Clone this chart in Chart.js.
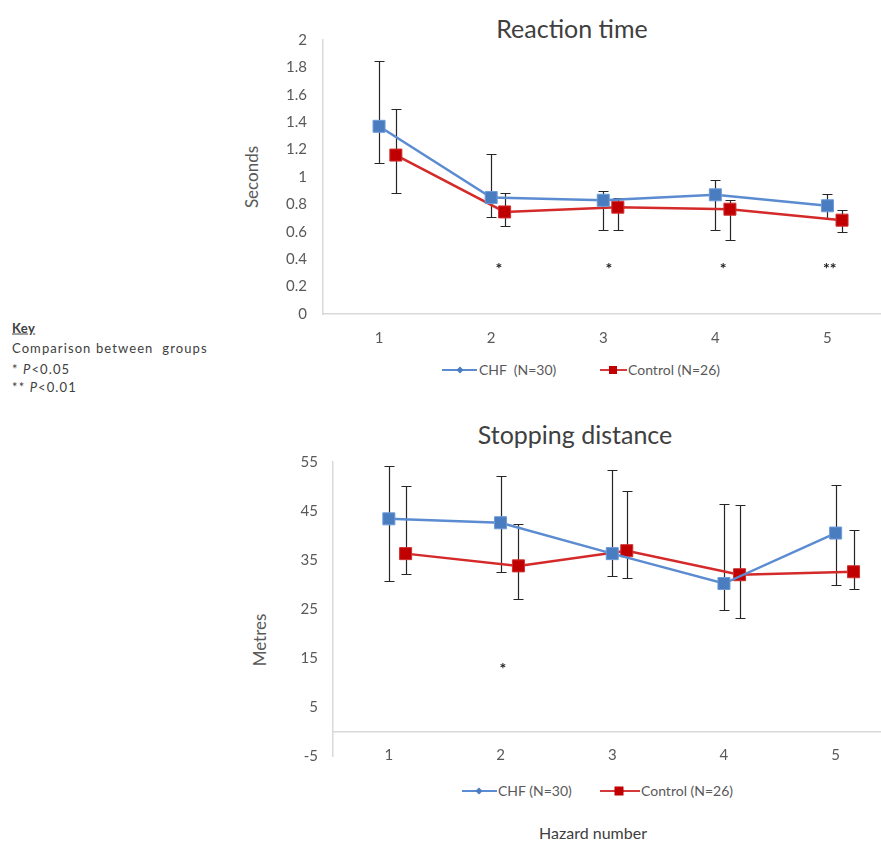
<!DOCTYPE html>
<html>
<head>
<meta charset="utf-8">
<script src="https://cdn.jsdelivr.net/npm/chart.js@4.4.1/dist/chart.umd.min.js"></script>
<style>
  body { margin: 0; width: 881px; height: 843px; overflow: hidden; background: #fff; position: relative; font-family: Lato, "Open Sans", sans-serif; color: #595959; }
  .abs { position: absolute; }
  .ctr { position: absolute; transform: translate(-50%, -50%); line-height: 1; white-space: nowrap; }
  .title { font-size: 25px; color: #404040; }
  .ytitle { position: absolute; transform: translate(-50%, -50%) rotate(-90deg); font-size: 17px; color: #595959; line-height: 1; white-space: nowrap; }
  .key { position: absolute; left: 12px; font-size: 13px; color: #404040; line-height: 1; letter-spacing: 1.1px; white-space: nowrap; transform: translateY(-50%); }
  .leg-line { position: absolute; height: 2px; }
  .leg-mark { position: absolute; transform: translate(-50%, -50%); }
  .leg-text { position: absolute; font-size: 14px; color: #595959; line-height: 1; transform: translateY(-50%); white-space: nowrap; }
</style>
</head>
<body>

<div class="ctr title" style="left:572px;top:28px">Reaction time</div>
<div class="ytitle" style="left:251px;top:177px">Seconds</div>
<div class="abs" style="left:240px;top:0;width:653px;height:350px"><canvas id="rtChart"></canvas></div>

<div class="key" style="top:328px;font-weight:bold;text-decoration:underline;letter-spacing:0.4px">Key</div>
<div class="key" style="top:348px">Comparison between&nbsp; groups</div>
<div class="key" style="top:369px">* <i>P</i>&lt;0.05</div>
<div class="key" style="top:387px">** <i>P</i>&lt;0.01</div>

<!-- top legend -->
<div class="leg-line" style="left:442px;top:369px;width:35px;background:#5b8bd0"></div>
<div class="leg-mark" style="left:460px;top:370px;width:5px;height:5px;background:#4a7cc0;transform:translate(-50%,-50%) rotate(45deg)"></div>
<div class="leg-text" style="left:479px;top:370px">CHF&nbsp; (N=30)</div>
<div class="leg-line" style="left:600px;top:369px;width:27px;background:#d43a3a"></div>
<div class="leg-mark" style="left:613px;top:370px;width:8px;height:8px;background:#c00000"></div>
<div class="leg-text" style="left:628px;top:370px">Control (N=26)</div>

<div class="ctr title" style="left:575px;top:434px">Stopping distance</div>
<div class="ytitle" style="left:259px;top:640px">Metres</div>
<div class="abs" style="left:240px;top:420px;width:661px;height:360px"><canvas id="sdChart"></canvas></div>

<!-- bottom legend -->
<div class="leg-line" style="left:462px;top:790px;width:35px;background:#5b8bd0"></div>
<div class="leg-mark" style="left:479px;top:791px;width:5px;height:5px;background:#4a7cc0;transform:translate(-50%,-50%) rotate(45deg)"></div>
<div class="leg-text" style="left:498px;top:791px">CHF (N=30)</div>
<div class="leg-line" style="left:600px;top:790px;width:40px;background:#d43a3a"></div>
<div class="leg-mark" style="left:619px;top:791px;width:9px;height:9px;background:#c00000"></div>
<div class="leg-text" style="left:641px;top:791px">Control (N=26)</div>

<div class="ctr" style="left:593px;top:833px;font-size:16px;color:#404040">Hazard number</div>

<script>
// x categories
const hazards = [1, 2, 3, 4, 5];

// reaction time (seconds)
const rtYTicks = [0, 0.2, 0.4, 0.6, 0.8, 1, 1.2, 1.4, 1.6, 1.8, 2];
const rtChfX = [1, 2, 3, 4, 5];
const rtChf = [1.37, 0.85, 0.83, 0.87, 0.79];
const rtChfHi = [1.85, 1.17, 0.9, 0.98, 0.875];
const rtChfLo = [1.1, 0.71, 0.61, 0.61, 0.7];
const rtCtrlX = [1.15, 2.12, 3.13, 4.13, 5.13];
const rtCtrl = [1.16, 0.745, 0.78, 0.765, 0.685];
const rtCtrlHi = [1.5, 0.88, 0.85, 0.83, 0.76];
const rtCtrlLo = [0.885, 0.64, 0.61, 0.54, 0.6];
const rtSigX = [2.07, 3.05, 4.07, 5.02];
const rtSigY = [0.35, 0.35, 0.35, 0.35];
const rtSig = ["*", "*", "*", "**"];

// stopping distance (metres)
const sdYTicks = [-5, 5, 15, 25, 35, 45, 55];
const sdChfX = [1, 2, 3, 4, 5];
const sdChf = [43.4, 42.6, 36.3, 30.2, 40.5];
const sdChfHi = [54.2, 52.2, 53.4, 46.4, 50.3];
const sdChfLo = [30.8, 32.6, 31.8, 24.7, 29.8];
const sdCtrlX = [1.15, 2.16, 3.13, 4.14, 5.16];
const sdCtrl = [36.3, 33.8, 36.9, 32.0, 32.6];
const sdCtrlHi = [50.1, 42.3, 49.0, 46.2, 41.1];
const sdCtrlLo = [32.2, 27.1, 31.4, 23.1, 29.1];
const sdSigX = [2.02];
const sdSigY = [13.3];
const sdSig = ["*"];

const BLUE_LINE = "#5b8bd0";
const BLUE_MARK = "#4a7cc0";
const RED_LINE = "#d42a2a";
const RED_MARK = "#c00000";
const AXIS = "#d9d9d9";

function pts(xs, ys) {
  return xs.map((x, i) => ({ x: x, y: ys[i] }));
}

// draws the vertical error bars behind the series
const errorBars = {
  id: "errorBars",
  beforeDatasetsDraw(chart) {
    const ctx = chart.ctx;
    const y = chart.scales.y;
    chart.data.datasets.forEach((ds, di) => {
      if (!ds.hi) return;
      const meta = chart.getDatasetMeta(di);
      ctx.save();
      ctx.strokeStyle = "#262626";
      ctx.lineWidth = 1.2;
      meta.data.forEach((pt, i) => {
        const top = Math.round(y.getPixelForValue(ds.hi[i])) + 0.5;
        const bot = Math.round(y.getPixelForValue(ds.lo[i])) + 0.5;
        const px = Math.round(pt.x) + 0.5;
        ctx.beginPath();
        ctx.moveTo(px, top);
        ctx.lineTo(px, bot);
        ctx.moveTo(px - 5, top);
        ctx.lineTo(px + 5, top);
        ctx.moveTo(px - 5, bot);
        ctx.lineTo(px + 5, bot);
        ctx.stroke();
      });
      ctx.restore();
    });
  },
};

// significance asterisks
const sigMarks = {
  id: "sigMarks",
  afterDatasetsDraw(chart, args, opts) {
    if (!opts.labels) return;
    const { ctx, scales } = chart;
    ctx.save();
    ctx.fillStyle = "#1a1a1a";
    ctx.font = "bold 16px Lato";
    ctx.textAlign = "center";
    ctx.textBaseline = "middle";
    opts.labels.forEach((t, i) => {
      ctx.fillText(t, scales.x.getPixelForValue(opts.x[i]), scales.y.getPixelForValue(opts.y[i]) + 3);
    });
    ctx.restore();
  },
};

function makeChart(id, o) {
  return new Chart(document.getElementById(id), {
    type: "line",
    data: {
      datasets: [
        {
          label: "CHF (N=30)",
          data: pts(o.chfX, o.chf),
          hi: o.chfHi,
          lo: o.chfLo,
          borderColor: BLUE_LINE,
          borderWidth: 2.5,
          pointStyle: "rect",
          pointRadius: 8.5,
          pointBackgroundColor: BLUE_MARK,
          pointBorderColor: "#6d9bd8",
          pointBorderWidth: 1,
        },
        {
          label: "Control (N=26)",
          data: pts(o.ctrlX, o.ctrl),
          hi: o.ctrlHi,
          lo: o.ctrlLo,
          borderColor: RED_LINE,
          borderWidth: 2.5,
          pointStyle: "rect",
          pointRadius: 8.5,
          pointBackgroundColor: RED_MARK,
          pointBorderColor: "#d03030",
          pointBorderWidth: 1,
        },
      ],
    },
    options: {
      responsive: true,
      maintainAspectRatio: false,
      animation: false,
      events: [],
      layout: { padding: { top: o.padTop, left: 0, right: 0, bottom: o.padBottom } },
      plugins: {
        legend: { display: false },
        tooltip: { enabled: false },
        sigMarks: { labels: o.sig, x: o.sigX, y: o.sigY },
      },
      scales: {
        x: {
          type: "linear",
          position: o.xPos,
          min: 0.5,
          max: 5.5,
          afterBuildTicks: (s) => {
            s.ticks = hazards.map((h) => ({ value: h }));
          },
          afterFit: (s) => {
            if (o.xHeight) s.height = o.xHeight;
          },
          grid: { display: false, drawTicks: false },
          border: { display: true, color: AXIS, width: 1.5 },
          ticks: { padding: 15, color: "#595959", font: { family: "Lato", size: 15 } },
        },
        y: {
          min: o.yTicks[0],
          max: o.yTicks[o.yTicks.length - 1],
          afterBuildTicks: (s) => {
            s.ticks = o.yTicks.map((v) => ({ value: v }));
          },
          afterFit: (s) => {
            s.width = o.yWidth;
          },
          grid: { display: false, drawTicks: false },
          border: { display: true, color: AXIS, width: 1.5 },
          ticks: {
            padding: o.yPad,
            color: "#595959",
            font: { family: "Lato", size: 15 },
            callback: (v) => String(v),
          },
        },
      },
    },
    plugins: [errorBars, sigMarks],
  });
}

makeChart("rtChart", {
  chfX: rtChfX, chf: rtChf, chfHi: rtChfHi, chfLo: rtChfLo,
  ctrlX: rtCtrlX, ctrl: rtCtrl, ctrlHi: rtCtrlHi, ctrlLo: rtCtrlLo,
  sig: rtSig, sigX: rtSigX, sigY: rtSigY,
  yTicks: rtYTicks,
  xPos: "bottom",
  padTop: 40, padBottom: 0, xHeight: 36, yWidth: 83, yPad: 16,
});

makeChart("sdChart", {
  chfX: sdChfX, chf: sdChf, chfHi: sdChfHi, chfLo: sdChfLo,
  ctrlX: sdCtrlX, ctrl: sdCtrl, ctrlHi: sdCtrlHi, ctrlLo: sdCtrlLo,
  sig: sdSig, sigX: sdSigX, sigY: sdSigY,
  yTicks: sdYTicks,
  xPos: { y: 0 },
  padTop: 42, padBottom: 22, xHeight: 0, yWidth: 93, yPad: 15,
});
</script>
</body>
</html>
